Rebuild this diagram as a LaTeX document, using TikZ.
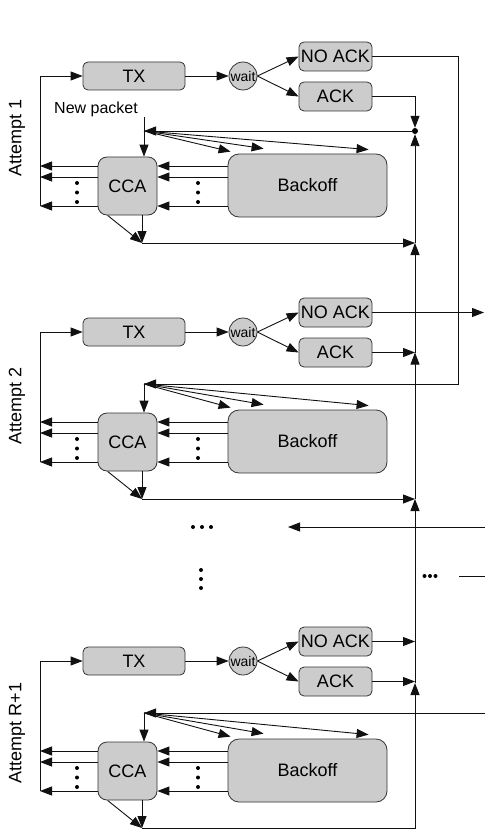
\documentclass[tikz,border=0pt]{standalone}
\usepackage{fontspec}
\setmainfont{Liberation Sans}
\usetikzlibrary{arrows.meta,calc}
\definecolor{boxfill}{HTML}{CCCCCC}
\definecolor{boxline}{HTML}{333333}
\definecolor{wire}{HTML}{111111}
\tikzset{
  box/.style={draw=boxline, fill=boxfill, rounded corners=5pt, line width=0.8pt,
    inner sep=0pt, font=\fontsize{18}{20}\selectfont},
  waitnode/.style={circle, draw=boxline, fill=boxfill, line width=0.8pt,
    minimum size=28pt, inner sep=0pt, font=\fontsize{14}{16}\selectfont},
  arr/.style={draw=wire, -{Triangle[length=12pt,width=9pt]}, line width=0.9pt},
  ln/.style={draw=wire, line width=0.9pt},
  dotm/.style={circle, fill=black, inner sep=0pt, minimum size=4pt},
  lab/.style={rotate=90, font=\fontsize{18}{20}\selectfont},
}
\newcommand\attemptblock[3]{%
\begin{scope}[yshift=-#2pt]
  \node[box, minimum width=102pt, minimum height=28pt] (tx#1) at (134,76) {TX};
  \node[waitnode] (wait#1) at (243,76) {wait};
  \node[box, minimum width=73pt, minimum height=29pt] (nack#1) at (335.5,56.5) {NO ACK};
  \node[box, minimum width=73pt, minimum height=29pt] (ack#1) at (335.5,96.5) {ACK};
  \node[box, rounded corners=9pt, minimum width=59pt, minimum height=58pt] (cca#1) at (127.5,186) {CCA};
  \node[box, rounded corners=11pt, minimum width=159pt, minimum height=63pt] (bo#1) at (307.5,185.5) {Backoff};
  \coordinate (j#1) at (144,#3);
  \coordinate (b#1) at (142,243);
  \coordinate (lt#1) at (40,76);
  \coordinate (lb#1) at (40,206);
  \coordinate (ya#1) at (0,166);
  \coordinate (yb#1) at (0,177);
  \coordinate (yc#1) at (0,206);
  \draw[arr] (tx#1.east) -- (wait#1.west);
  \draw[arr] (wait#1.east) -- (nack#1.west);
  \draw[arr] (wait#1.east) -- (ack#1.west);
  \draw[ln] (lb#1) -- (lt#1);
  \draw[arr] (lt#1) -- (tx#1.west);
  \foreach \k in {ya#1,yb#1,yc#1} {
    \draw[arr] (bo#1.west |- \k) -- (cca#1.east |- \k);
    \draw[arr] (cca#1.west |- \k) -- (lt#1 |- \k);
  }
  \foreach \yy in {183,192.5,202} {
    \node[dotm] (dr#1\yy) at (198,\yy) {};
    \node[dotm] (dl#1\yy) at (77,\yy) {};
  }
  \draw[arr] (j#1) -- (j#1 |- cca#1.north);
  \draw[arr] (j#1) -- ($(bo#1.north west)+(3,-2)$);
  \draw[arr] (j#1) -- ($(bo#1.north west)+(36,-5)$);
  \draw[arr] (j#1) -- ($(bo#1.north west)+(141,-4)$);
  \draw[arr] (cca#1.south -| b#1) -- (b#1);
  \draw[arr] ($(cca#1.south west)+(10,0)$) -- (b#1);
\end{scope}}
\begin{document}
\begin{tikzpicture}[x=1pt,y=-1pt]
\useasboundingbox (0,0) rectangle (485,829);

\attemptblock{1}{0}{131}
\attemptblock{2}{256}{128}
\attemptblock{3}{585}{128}

\node[lab] (lab1) at (17,138) {Attempt 1};
\node[lab] (lab2) at (17,406) {Attempt 2};
\node[lab] (lab3) at (17,733) {Attempt R+1};

% attempt 1 specifics
\node[font=\fontsize{16}{18}\selectfont] (np) at (96,109) {New packet};
\coordinate (nps) at (144,117);
\draw[ln] (nps) -- (j1);
\node[dotm, minimum size=6pt] (dot) at (415,131) {};
\draw[arr] (ack1.east) -| (dot.north);
\draw[arr] (dot.west) -- (j1);
\coordinate (nbus) at (458,384);
\draw[arr] (nack1.east) -| (nbus) -- (j2);
\draw[arr] (b1) -- (b1 -| dot);
\draw[arr] (b1 -| dot) -- (dot.south);

% attempt 2 specifics
\coordinate (out2) at (484,312.5);
\draw[arr] (nack2.east) -- (out2);
\draw[arr] (ack2.east) -- (ack2.east -| dot);
\draw[arr] (ack2.east -| dot) -- (b1 -| dot);
\draw[arr] (b2) -- (b2 -| dot);
\draw[arr] (b2 -| dot) -- (ack2.east -| dot);

% middle
\coordinate (min) at (485,527);
\coordinate (mend) at (288,527);
\draw[arr] (min) -- (mend);
\foreach \xx in {193,202,211} { \node[dotm] (hd\xx) at (\xx,527) {}; }
\foreach \yy in {570,579,588} { \node[dotm] (vd\yy) at (201,\yy) {}; }
\foreach \xx in {424.5,430,435.5} { \node[dotm] (rd\xx) at (\xx,576) {}; }
\coordinate (rl1) at (459,576);
\coordinate (rl2) at (485,576);
\draw[ln] (rl1) -- (rl2);

% attempt R+1 specifics
\draw[arr] (nack3.east) -- (nack3.east -| dot);
\draw[arr] (ack3.east) -- (ack3.east -| dot);
\coordinate (in3) at (485,713);
\draw[arr] (in3) -- (j3);
\coordinate (up3) at (415,683);
\draw[arr] (b3) -- (b3 -| dot) -- (up3);
\draw[arr] (up3) -- (b2 -| dot);
\end{tikzpicture}
\end{document}
